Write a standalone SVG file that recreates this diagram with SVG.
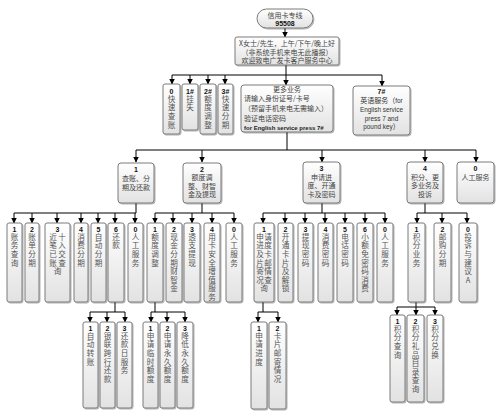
<svg xmlns="http://www.w3.org/2000/svg" width="499" height="416" viewBox="0 0 499 416">
<defs>
<linearGradient id="g" x1="0" y1="0" x2="0" y2="1"><stop offset="0" stop-color="#ffffff"/><stop offset="1" stop-color="#e2e2e2"/></linearGradient>
<filter id="sh" x="-20%" y="-20%" width="150%" height="150%"><feDropShadow dx="1" dy="1" stdDeviation="0.6" flood-color="#000" flood-opacity="0.3"/></filter>
<marker id="a" markerWidth="6" markerHeight="6" refX="5.5" refY="3" orient="auto" markerUnits="userSpaceOnUse"><path d="M0,0 L6,3 L0,6 z" fill="#000"/></marker>
</defs>
<style>
.b{fill:url(#g);stroke:#7a7a7a;stroke-width:1;filter:url(#sh)}
.n{font-family:"Liberation Sans",Arial,sans-serif;font-weight:bold;font-size:7px;fill:#111;text-anchor:middle}
.v{font-family:"Noto Sans CJK SC",sans-serif;font-size:7.6px;fill:#555;writing-mode:vertical-rl;text-orientation:upright;letter-spacing:1px}
.h{font-family:"Noto Sans CJK SC",sans-serif;font-size:7px;fill:#444;text-anchor:middle}
.l{font-family:"Noto Sans CJK SC",sans-serif;font-size:7px;fill:#444}
.e{font-family:"Liberation Sans",Arial,sans-serif;font-size:6.4px;fill:#333;text-anchor:middle}
.eb{font-family:"Liberation Sans",Arial,sans-serif;font-size:6px;font-weight:bold;fill:#222}
.c line{stroke:#000;stroke-width:1;fill:none}
.c .ar{marker-end:url(#a)}
</style>

<g id="connectors" class="c">
<line class="ar" x1="285" y1="28" x2="285" y2="37"/>
<line x1="286" y1="65" x2="286" y2="75"/>
<line x1="172" y1="75" x2="382" y2="75"/>
<line class="ar" x1="172" y1="75" x2="172" y2="84"/>
<line class="ar" x1="190" y1="75" x2="190" y2="84"/>
<line class="ar" x1="208" y1="75" x2="208" y2="84"/>
<line class="ar" x1="225" y1="75" x2="225" y2="84"/>
<line class="ar" x1="286" y1="75" x2="286" y2="85"/>
<line class="ar" x1="382" y1="75" x2="382" y2="86"/>
<line x1="287" y1="132" x2="287" y2="150"/>
<line x1="136" y1="150" x2="476" y2="150"/>
<line class="ar" x1="136" y1="150" x2="136" y2="162"/>
<line class="ar" x1="202" y1="150" x2="202" y2="162"/>
<line class="ar" x1="322" y1="150" x2="322" y2="162"/>
<line class="ar" x1="425" y1="150" x2="425" y2="162"/>
<line class="ar" x1="476" y1="150" x2="476" y2="162"/>
<line x1="136" y1="203" x2="136" y2="213"/>
<line x1="14" y1="213" x2="136" y2="213"/>
<line class="ar" x1="14" y1="213" x2="14" y2="223"/>
<line class="ar" x1="32" y1="213" x2="32" y2="223"/>
<line class="ar" x1="57" y1="213" x2="57" y2="223"/>
<line class="ar" x1="81" y1="213" x2="81" y2="223"/>
<line class="ar" x1="98" y1="213" x2="98" y2="223"/>
<line class="ar" x1="115" y1="213" x2="115" y2="223"/>
<line class="ar" x1="135" y1="213" x2="135" y2="223"/>
<line x1="202" y1="203" x2="202" y2="213"/>
<line x1="155" y1="213" x2="234" y2="213"/>
<line class="ar" x1="155" y1="213" x2="155" y2="223"/>
<line class="ar" x1="173" y1="213" x2="173" y2="223"/>
<line class="ar" x1="192" y1="213" x2="192" y2="223"/>
<line class="ar" x1="212" y1="213" x2="212" y2="223"/>
<line class="ar" x1="234" y1="213" x2="234" y2="223"/>
<line x1="322" y1="203" x2="322" y2="213"/>
<line x1="263" y1="213" x2="385" y2="213"/>
<line class="ar" x1="263" y1="213" x2="263" y2="223"/>
<line class="ar" x1="285" y1="213" x2="285" y2="223"/>
<line class="ar" x1="305" y1="213" x2="305" y2="223"/>
<line class="ar" x1="325" y1="213" x2="325" y2="223"/>
<line class="ar" x1="345" y1="213" x2="345" y2="223"/>
<line class="ar" x1="365" y1="213" x2="365" y2="223"/>
<line class="ar" x1="385" y1="213" x2="385" y2="223"/>
<line x1="425" y1="203" x2="425" y2="213"/>
<line x1="417" y1="213" x2="467" y2="213"/>
<line class="ar" x1="417" y1="213" x2="417" y2="223"/>
<line class="ar" x1="442" y1="213" x2="442" y2="223"/>
<line class="ar" x1="467" y1="213" x2="467" y2="223"/>
<line x1="115" y1="302" x2="115" y2="312"/>
<line x1="90" y1="312" x2="125" y2="312"/>
<line class="ar" x1="90" y1="312" x2="90" y2="322"/>
<line class="ar" x1="107" y1="312" x2="107" y2="322"/>
<line class="ar" x1="125" y1="312" x2="125" y2="322"/>
<line x1="155" y1="302" x2="155" y2="312"/>
<line x1="151" y1="312" x2="185" y2="312"/>
<line class="ar" x1="151" y1="312" x2="151" y2="322"/>
<line class="ar" x1="167" y1="312" x2="167" y2="322"/>
<line class="ar" x1="185" y1="312" x2="185" y2="322"/>
<line x1="263" y1="302" x2="263" y2="312"/>
<line x1="258" y1="312" x2="278" y2="312"/>
<line class="ar" x1="258" y1="312" x2="258" y2="322"/>
<line class="ar" x1="278" y1="312" x2="278" y2="322"/>
<line x1="416" y1="302" x2="416" y2="307"/>
<line x1="397" y1="307" x2="435" y2="307"/>
<line class="ar" x1="397" y1="307" x2="397" y2="315"/>
<line class="ar" x1="416" y1="307" x2="416" y2="315"/>
<line class="ar" x1="435" y1="307" x2="435" y2="315"/>
</g>

<g id="hotline"><rect class="b" x="257" y="9" width="56" height="19" rx="9.5"/><text class="h" x="285" y="18">信用卡专线</text><text class="n" x="285" y="26">95508</text></g>
<g id="greeting"><rect class="b" x="235" y="37" width="104" height="28" rx="2"/><text class="h" x="287" y="45.5">X女士/先生，上午/下午/晚上好</text><text class="h" x="287" y="54.5">（非系统手机来电无此播报）</text><text class="h" x="287" y="63">欢迎致电广发卡客户服务中心</text></g>

<g id="m0"><rect class="b" x="163" y="84" width="17" height="50" rx="2"/><text class="n" x="171.5" y="93.5">0</text><text class="v" x="171.5" y="95.2">快速查账</text></g>
<g id="m1"><rect class="b" x="182" y="84" width="16" height="46" rx="2"/><text class="n" x="190" y="93.5">1#</text><text class="v" x="190" y="95.2">挂失</text></g>
<g id="m2"><rect class="b" x="200" y="84" width="16" height="50" rx="2"/><text class="n" x="208" y="93.5">2#</text><text class="v" x="208" y="95.2">额度调整</text></g>
<g id="m3"><rect class="b" x="218" y="84" width="15" height="50" rx="2"/><text class="n" x="225.5" y="93.5">3#</text><text class="v" x="225.5" y="95.2">快速分期</text></g>
<g id="more"><rect class="b" x="241" y="85" width="92" height="47" rx="3"/><text class="h" x="287" y="92">更多业务</text><text class="l" x="244" y="101">请输入身份证号/卡号</text><text class="l" x="244" y="111">（预留手机来电无需输入）</text><text class="l" x="244" y="121">验证电话密码</text><text class="eb" x="244" y="130">for English service press 7#</text></g>
<g id="m7"><rect class="b" x="353" y="86" width="57" height="49" rx="3"/><text class="n" x="381.5" y="94">7#</text><text class="e" x="381.5" y="103"><tspan font-family="Noto Sans CJK SC" font-size="7">英语服务（</tspan>for</text><text class="e" x="381.5" y="112">English service</text><text class="e" x="381.5" y="120.5">press 7 and</text><text class="e" x="381.5" y="129">pound key<tspan font-family="Noto Sans CJK SC" font-size="7">）</tspan></text></g>

<g id="k1"><rect class="b" x="118" y="163" width="36" height="40" rx="3"/><text class="n" x="136" y="172">1</text><text class="h" x="136" y="181">查账、分</text><text class="h" x="136" y="190">期及还款</text></g>
<g id="k2"><rect class="b" x="183" y="163" width="38" height="40" rx="3"/><text class="n" x="202" y="172">2</text><text class="h" x="202" y="180">额度调</text><text class="h" x="202" y="188.5">整、财智</text><text class="h" x="202" y="197">金及提现</text></g>
<g id="k3"><rect class="b" x="303" y="162" width="37" height="41" rx="3"/><text class="n" x="321.5" y="171">3</text><text class="h" x="321.5" y="179.5">申请进</text><text class="h" x="321.5" y="188">度、开通</text><text class="h" x="321.5" y="196.5">卡及密码</text></g>
<g id="k4"><rect class="b" x="407" y="162" width="36" height="41" rx="3"/><text class="n" x="425" y="171">4</text><text class="h" x="425" y="179.5">积分、更</text><text class="h" x="425" y="188">多业务及</text><text class="h" x="425" y="196.5">投诉</text></g>
<g id="k0"><rect class="b" x="457" y="162" width="37" height="41" rx="3"/><text class="n" x="475.5" y="171">0</text><text class="h" x="475.5" y="179.5">人工服务</text></g>

<g id="a1"><rect class="b" x="7" y="223" width="15" height="79" rx="2"/><text class="n" x="14.5" y="232">1</text><text class="v" x="14.5" y="233.2">账务查询</text></g>
<g id="a2"><rect class="b" x="25" y="223" width="14" height="79" rx="2"/><text class="n" x="32" y="232">2</text><text class="v" x="32" y="233.2">账单分期</text></g>
<g id="a3"><rect class="b" x="45" y="223" width="25" height="79" rx="2"/><text class="n" x="57.5" y="232">3</text><text class="v" x="53" y="233.2">近笔已账</text><text class="v" x="62" y="233.2">十入交查</text><text class="v" x="57.5" y="267.6">询</text></g>
<g id="a4"><rect class="b" x="74" y="223" width="14" height="79" rx="2"/><text class="n" x="81" y="232">4</text><text class="v" x="81" y="233.2">消费分期</text></g>
<g id="a5"><rect class="b" x="91" y="223" width="15" height="79" rx="2"/><text class="n" x="98.5" y="232">5</text><text class="v" x="98.5" y="233.2">自动分期</text></g>
<g id="a6"><rect class="b" x="108" y="223" width="16" height="79" rx="2"/><text class="n" x="116" y="232">6</text><text class="v" x="116" y="233.2">还款</text></g>
<g id="a0"><rect class="b" x="128" y="223" width="15" height="79" rx="2"/><text class="n" x="135.5" y="232">0</text><text class="v" x="135.5" y="233.2">人工服务</text></g>

<g id="b1"><rect class="b" x="147" y="223" width="16" height="79" rx="2"/><text class="n" x="155" y="232">1</text><text class="v" x="155" y="233.2">额度调整</text></g>
<g id="b2"><rect class="b" x="166" y="223" width="16" height="79" rx="2"/><text class="n" x="174" y="232">2</text><text class="v" x="174" y="233.2">现金分期财智金</text></g>
<g id="b3"><rect class="b" x="184" y="223" width="16" height="79" rx="2"/><text class="n" x="192" y="232">3</text><text class="v" x="192" y="233.2">透支提现</text></g>
<g id="b4"><rect class="b" x="204" y="223" width="16" height="79" rx="2"/><text class="n" x="212" y="232">4</text><text class="v" x="212" y="233.2">用卡安全增值服务</text></g>
<g id="b0"><rect class="b" x="226" y="223" width="16" height="79" rx="2"/><text class="n" x="234" y="232">0</text><text class="v" x="234" y="233.2">人工服务</text></g>

<g id="c1"><rect class="b" x="254" y="223" width="20" height="79" rx="2"/><text class="n" x="264" y="232">1</text><text class="v" x="260" y="233.2">申进及片寄况</text><text class="v" x="268" y="233.2">请度卡邮情查</text><text class="v" x="264" y="284.8">询</text></g>
<g id="c2"><rect class="b" x="278" y="223" width="15" height="79" rx="2"/><text class="n" x="285.5" y="232">2</text><text class="v" x="285.5" y="233.2">开通卡片及解锁</text></g>
<g id="c3"><rect class="b" x="298" y="223" width="15" height="79" rx="2"/><text class="n" x="305.5" y="232">3</text><text class="v" x="305.5" y="233.2">提现密码</text></g>
<g id="c4"><rect class="b" x="318" y="223" width="15" height="79" rx="2"/><text class="n" x="325.5" y="232">4</text><text class="v" x="325.5" y="233.2">消费密码</text></g>
<g id="c5"><rect class="b" x="337" y="223" width="16" height="79" rx="2"/><text class="n" x="345" y="232">5</text><text class="v" x="345" y="233.2">电话密码</text></g>
<g id="c6"><rect class="b" x="357" y="223" width="16" height="79" rx="2"/><text class="n" x="365" y="232">6</text><text class="v" x="365" y="233.2">小额免密码消费</text></g>
<g id="c0"><rect class="b" x="377" y="223" width="16" height="79" rx="2"/><text class="n" x="385" y="232">0</text><text class="v" x="385" y="233.2">人工服务</text></g>

<g id="d1"><rect class="b" x="408" y="223" width="17" height="79" rx="2"/><text class="n" x="416.5" y="232">1</text><text class="v" x="416.5" y="233.2">积分业务</text></g>
<g id="d2"><rect class="b" x="434" y="223" width="17" height="79" rx="2"/><text class="n" x="442.5" y="232">2</text><text class="v" x="442.5" y="233.2">邮购分期</text></g>
<g id="d0"><rect class="b" x="459" y="223" width="18" height="79" rx="2"/><text class="n" x="468" y="232">0</text><text class="v" x="468" y="233.2">投诉与建议A</text></g>

<g id="e1"><rect class="b" x="83" y="322" width="15" height="86" rx="2"/><text class="n" x="90.5" y="331">1</text><text class="v" x="90.5" y="332.2">自动转账</text></g>
<g id="e2"><rect class="b" x="100" y="322" width="15" height="86" rx="2"/><text class="n" x="107.5" y="331">2</text><text class="v" x="107.5" y="332.2">银联跨行还款</text></g>
<g id="e3"><rect class="b" x="117" y="322" width="15" height="86" rx="2"/><text class="n" x="124.5" y="331">3</text><text class="v" x="124.5" y="332.2">还款日服务</text></g>

<g id="f1"><rect class="b" x="143" y="322" width="15" height="86" rx="2"/><text class="n" x="150.5" y="331">1</text><text class="v" x="150.5" y="332.2">申请临时额度</text></g>
<g id="f2"><rect class="b" x="160" y="322" width="15" height="86" rx="2"/><text class="n" x="167.5" y="331">2</text><text class="v" x="167.5" y="332.2">申请永久额度</text></g>
<g id="f3"><rect class="b" x="177" y="322" width="16" height="86" rx="2"/><text class="n" x="185" y="331">3</text><text class="v" x="185" y="332.2">降低永久额度</text></g>

<g id="g1"><rect class="b" x="251" y="322" width="16" height="87" rx="2"/><text class="n" x="259" y="331">1</text><text class="v" x="259" y="332.2">申请进度</text></g>
<g id="g2"><rect class="b" x="269" y="322" width="17" height="87" rx="2"/><text class="n" x="277.5" y="331">2</text><text class="v" x="277.5" y="332.2">卡片邮寄情况</text></g>

<g id="h1"><rect class="b" x="390" y="315" width="15" height="87" rx="2"/><text class="n" x="397.5" y="324">1</text><text class="v" x="397.5" y="325.2">积分查询</text></g>
<g id="h2"><rect class="b" x="407" y="315" width="17" height="87" rx="2"/><text class="n" x="415.5" y="324">2</text><text class="v" x="415.5" y="325.2">积分礼品目录查询</text></g>
<g id="h3"><rect class="b" x="427" y="315" width="16" height="87" rx="2"/><text class="n" x="435" y="324">3</text><text class="v" x="435" y="325.2">积分兑换</text></g>
</svg>
